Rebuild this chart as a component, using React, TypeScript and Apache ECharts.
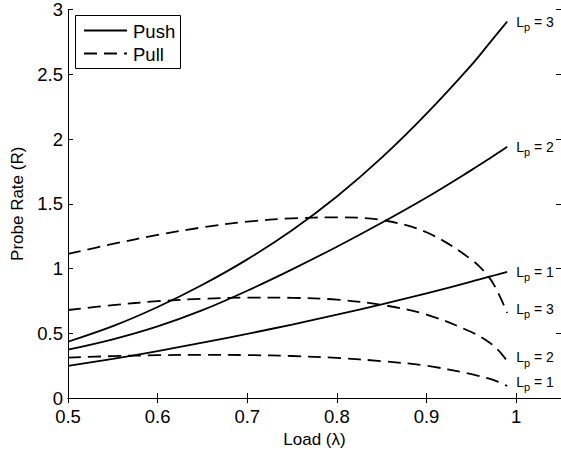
import React, { useEffect, useRef } from "react";
import * as echarts from "echarts";

const loads = [0.5, 0.55, 0.6, 0.65, 0.7, 0.75, 0.8, 0.85, 0.9, 0.95, 0.97, 0.98, 0.99];
const push1 = [0.248, 0.303, 0.363, 0.428, 0.496, 0.568, 0.644, 0.724, 0.809, 0.899, 0.937, 0.956, 0.975];
const push2 = [0.374, 0.454, 0.554, 0.679, 0.829, 0.994, 1.169, 1.354, 1.549, 1.76, 1.848, 1.894, 1.94];
const push3 = [0.435, 0.555, 0.703, 0.875, 1.071, 1.296, 1.556, 1.856, 2.196, 2.571, 2.739, 2.823, 2.907];
const pull1 = [0.312, 0.324, 0.331, 0.334, 0.332, 0.325, 0.31, 0.285, 0.25, 0.185, 0.15, 0.125, 0.094];
const pull2 = [0.68, 0.718, 0.748, 0.767, 0.776, 0.774, 0.76, 0.72, 0.645, 0.51, 0.43, 0.37, 0.286];
const pull3 = [1.113, 1.19, 1.26, 1.318, 1.362, 1.388, 1.395, 1.375, 1.28, 1.07, 0.93, 0.81, 0.658];

const xTicks = ["0.5", "0.6", "0.7", "0.8", "0.9", "1"];
const yTicks = ["0", "0.5", "1", "1.5", "2", "2.5", "3"];

const FONT = "'Liberation Sans', Arial, Helvetica, sans-serif";

export default function App() {
  const ref = useRef<HTMLDivElement>(null);
  useEffect(() => {
    if (!ref.current) return;
    const chart = echarts.init(ref.current, undefined, { renderer: "svg" });
    const mk = (name: string, vals: number[], lp: number, dashed: boolean) => ({
      type: "line",
      name,
      data: loads.map((x, i) => [x, vals[i]]),
      symbol: "none",
      smooth: 0.35,
      lineStyle: { color: "#000", width: 1.8, type: dashed ? [13, 7] : "solid" },
      endLabel: {
        show: true,
        distance: 9,
        offset: dashed ? [0, -4] : [0, 0],
        formatter: `{l|L}{s|p}{l| = ${lp}}`,
        rich: {
          l: { fontSize: 14, fontFamily: FONT, color: "#000" },
          s: { fontSize: 11, fontFamily: FONT, color: "#000", padding: [11, 0, 0, 0] },
        },
      },
      emphasis: { disabled: true },
    });
    const xAxisBase = {
      type: "value",
      min: 0.5,
      max: 1.05,
      interval: 0.1,
      axisLine: { lineStyle: { color: "#000", width: 1 } },
      axisTick: { inside: true, length: 5, lineStyle: { color: "#000" } },
      splitLine: { show: false },
    };
    const yAxisBase = {
      type: "value",
      min: 0,
      max: 3,
      interval: 0.5,
      axisLine: { show: true, lineStyle: { color: "#000", width: 1 } },
      axisTick: { show: true, inside: true, length: 5, lineStyle: { color: "#000" } },
      splitLine: { show: false },
    };
    chart.setOption({
      animation: false,
      backgroundColor: "#fff",
      grid: { left: 68, right: -2, top: 8, bottom: 54, containLabel: false },
      xAxis: [
        {
          ...xAxisBase,
          position: "bottom",
          name: "Load (λ)",
          nameLocation: "middle",
          nameGap: 27,
          nameTextStyle: { fontSize: 17, fontFamily: FONT, color: "#000" },
          axisLabel: {
            fontSize: 18.5,
            fontFamily: FONT,
            color: "#000",
            margin: 9,
            showMaxLabel: false,
            formatter: (v: number) => {
              const s = xTicks.find((t) => Math.abs(parseFloat(t) - v) < 1e-6);
              return s ?? "";
            },
          },
        },
        { ...xAxisBase, position: "top", axisLabel: { show: false } },
      ],
      yAxis: [
        {
          ...yAxisBase,
          position: "left",
          name: "Probe Rate (R)",
          nameLocation: "middle",
          nameGap: 38,
          nameTextStyle: { fontSize: 17, fontFamily: FONT, color: "#000" },
          axisLabel: {
            fontSize: 18.5,
            fontFamily: FONT,
            color: "#000",
            margin: 5,
            formatter: (v: number) => {
              const s = yTicks.find((t) => Math.abs(parseFloat(t) - v) < 1e-6);
              return s ?? "";
            },
          },
        },
        { ...yAxisBase, position: "right", axisLabel: { show: false } },
      ],
      series: [
        mk("Push", push3, 3, false),
        mk("Push", push2, 2, false),
        mk("Push", push1, 1, false),
        mk("Pull", pull3, 3, true),
        mk("Pull", pull2, 2, true),
        mk("Pull", pull1, 1, true),
      ],
      graphic: [
        {
          type: "rect",
          z: 100,
          shape: { x: 75.5, y: 15.5, width: 105, height: 53 },
          style: { fill: "#fff", stroke: "#000", lineWidth: 1 },
        },
        {
          type: "line",
          z: 101,
          shape: { x1: 84, y1: 30.5, x2: 127, y2: 30.5 },
          style: { stroke: "#000", lineWidth: 1.8 },
        },
        {
          type: "line",
          z: 101,
          shape: { x1: 84, y1: 53.5, x2: 127, y2: 53.5 },
          style: { stroke: "#000", lineWidth: 1.8, lineDash: [13, 7] },
        },
        {
          type: "text",
          z: 101,
          x: 133,
          y: 31,
          style: { text: "Push", fontSize: 18.5, fontFamily: FONT, fill: "#000", verticalAlign: "middle" },
        },
        {
          type: "text",
          z: 101,
          x: 133,
          y: 54,
          style: { text: "Pull", fontSize: 18.5, fontFamily: FONT, fill: "#000", verticalAlign: "middle" },
        },
      ],
    });
    return () => chart.dispose();
  }, []);
  return (
    <div
      ref={ref}
      style={{ position: "absolute", left: 0, top: 0, width: 561, height: 453 }}
    />
  );
}
